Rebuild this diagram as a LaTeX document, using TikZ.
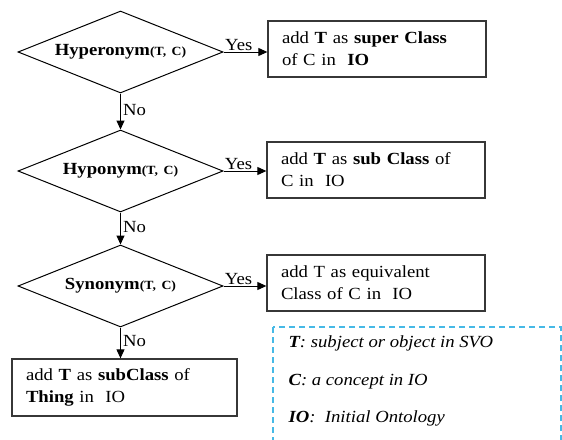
\documentclass[tikz,border=0pt]{standalone}
\usepackage{fontspec}
\setmainfont[FakeStretch=1.1]{Liberation Serif}
\usetikzlibrary{shapes.geometric,arrows.meta}
\definecolor{legendblue}{RGB}{70,185,230}
\definecolor{boxgrey}{RGB}{55,55,55}
\tikzset{
  decision/.style={diamond, aspect=2.5, draw=black, line width=1pt, inner sep=0pt,
    minimum width=205pt, minimum height=82pt, font=\fontsize{17}{19}\selectfont\bfseries},
  actionbox/.style={rectangle, draw=boxgrey, line width=1.3pt, inner xsep=14pt,
    text width=190pt, minimum height=56pt, align=left,
    font=\fontsize{17}{22}\selectfont},
  flow/.style={line width=1pt, -{Triangle[length=9pt,width=8pt]}},
  branch/.style={font=\fontsize{17}{19}\selectfont},
  legendtext/.style={anchor=west, font=\fontsize{17}{19}\selectfont\itshape},
}
\newcommand{\argsTC}{{\fontsize{12.5}{14}\selectfont(T,\,\ C)}}
\begin{document}
\begin{tikzpicture}[x=1pt,y=1pt]
\useasboundingbox (0,0) rectangle (562,-439);

% decisions
\node[decision] (d1) at (120.5,-52)  {Hyperonym\argsTC};
\node[decision] (d2) at (120.5,-171) {Hyponym\argsTC};
\node[decision] (d3) at (120.5,-286) {Synonym\argsTC};

% actions
\node[actionbox] (b1) at (377,-49)  {add \textbf{T} as \textbf{super Class}\\of C in \ \textbf{IO}};
\node[actionbox] (b2) at (376,-170) {add \textbf{T} as \textbf{sub Class} of\\C in \ IO};
\node[actionbox] (b3) at (376,-283) {add T as equivalent\\Class of C in \ IO};
\node[actionbox, text width=197pt, minimum height=57pt] (b4) at (124.5,-387.5) {add \textbf{T} as \textbf{subClass} of\\\textbf{Thing} in \ IO};

% yes branches
\draw[flow] (d1.east) -- node[branch, above, pos=0.35, inner sep=1pt] {Yes} (b1.west |- d1.east);
\draw[flow] (d2.east) -- node[branch, above, pos=0.35, inner sep=1pt] {Yes} (b2.west |- d2.east);
\draw[flow] (d3.east) -- node[branch, above, pos=0.35, inner sep=1pt] {Yes} (b3.west |- d3.east);

% no branches
\draw[flow] (d1.south) -- node[branch, right, pos=0.45, inner sep=2pt] {No} (d2.north);
\draw[flow] (d2.south) -- node[branch, right, pos=0.45, inner sep=2pt] {No} (d3.north);
\draw[flow] (d3.south) -- node[branch, right, pos=0.45, inner sep=2pt] {No} (d3.south |- b4.north);

% legend
\coordinate (lgtl) at (273,-327);
\coordinate (lgbr) at (561,-470);
\draw[legendblue, line width=1.2pt, dash pattern=on 6pt off 4pt] (lgtl) rectangle (lgbr);
\node[legendtext] (l1) at (285,-343) {\textbf{T}: subject or object in SVO};
\node[legendtext] (l2) at (285,-382) {\textbf{C}: a concept in IO};
\node[legendtext] (l3) at (285,-418) {\textbf{IO}: \ Initial Ontology};
\end{tikzpicture}
\end{document}
